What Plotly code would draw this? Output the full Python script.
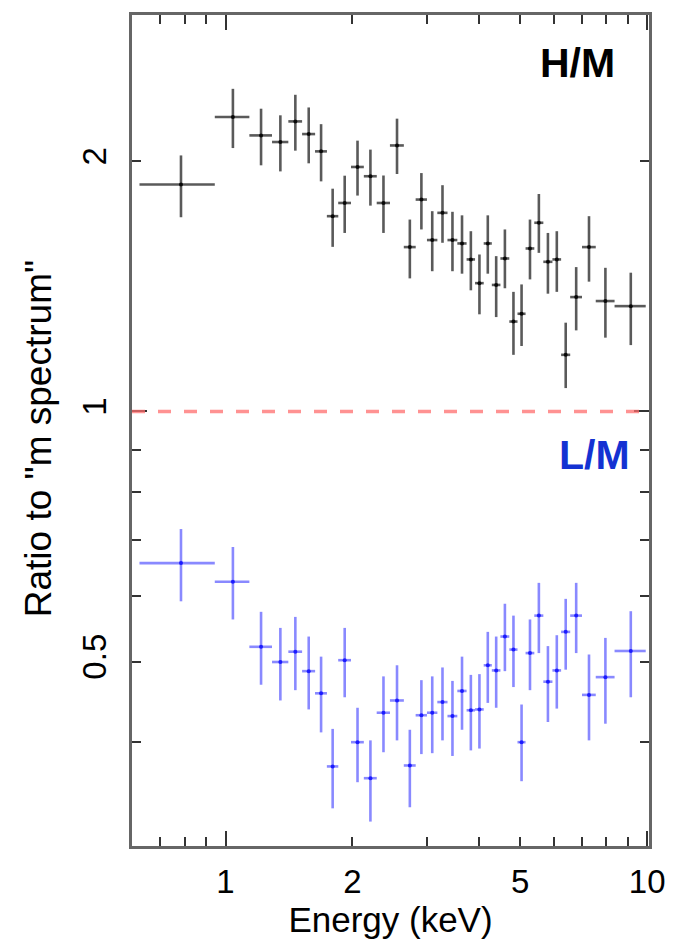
import numpy as np
import plotly.graph_objects as go

# ---------------- data ----------------
energy = [0.784, 1.041, 1.214, 1.349, 1.464, 1.575, 1.685, 1.795, 1.917, 2.056,
          2.206, 2.369, 2.551, 2.736, 2.914, 3.092, 3.270, 3.453, 3.638, 3.818,
          4.001, 4.188, 4.384, 4.598, 4.818, 5.036, 5.273, 5.535, 5.816, 6.105,
          6.409, 6.786, 7.278, 7.960, 9.144]
energy_halfwidth = [0.159, 0.098, 0.075, 0.060, 0.055, 0.056, 0.055, 0.056, 0.067, 0.072,
                    0.078, 0.086, 0.097, 0.089, 0.090, 0.088, 0.091, 0.093, 0.092, 0.088,
                    0.095, 0.093, 0.103, 0.112, 0.108, 0.111, 0.126, 0.137, 0.145, 0.145,
                    0.159, 0.219, 0.274, 0.409, 0.776]

hm_ratio = [1.876, 2.261, 2.149, 2.110, 2.234, 2.157, 2.056, 1.718, 1.782, 1.969,
            1.919, 1.782, 2.090, 1.577, 1.799, 1.608, 1.734, 1.608, 1.593, 1.524,
            1.427, 1.593, 1.420, 1.528, 1.283, 1.311, 1.571, 1.687, 1.514, 1.524,
            1.170, 1.373, 1.577, 1.358, 1.339]
hm_high = [2.033, 2.445, 2.314, 2.272, 2.405, 2.322, 2.217, 1.854, 1.922, 2.118,
           2.066, 1.923, 2.251, 1.702, 1.936, 1.742, 1.872, 1.739, 1.722, 1.648,
           1.545, 1.722, 1.538, 1.656, 1.393, 1.422, 1.702, 1.827, 1.640, 1.648,
           1.279, 1.492, 1.718, 1.489, 1.469]
hm_low = [1.713, 2.075, 1.978, 1.945, 2.060, 1.989, 1.892, 1.578, 1.640, 1.819,
          1.769, 1.640, 1.931, 1.446, 1.656, 1.475, 1.596, 1.475, 1.465, 1.399,
          1.309, 1.465, 1.299, 1.407, 1.170, 1.199, 1.442, 1.552, 1.386, 1.393,
          1.067, 1.252, 1.433, 1.227, 1.202]

lm_ratio = [0.657, 0.624, 0.521, 0.4995, 0.514, 0.487, 0.458, 0.374, 0.502, 0.400,
            0.362, 0.434, 0.449, 0.375, 0.431, 0.434, 0.447, 0.430, 0.461, 0.437,
            0.438, 0.495, 0.488, 0.536, 0.517, 0.400, 0.512, 0.568, 0.473, 0.488,
            0.543, 0.568, 0.456, 0.479, 0.515]
lm_high = [0.722, 0.687, 0.574, 0.549, 0.566, 0.536, 0.507, 0.415, 0.549, 0.440,
           0.402, 0.480, 0.495, 0.414, 0.475, 0.480, 0.492, 0.474, 0.507, 0.482,
           0.483, 0.543, 0.536, 0.587, 0.568, 0.444, 0.562, 0.622, 0.522, 0.538,
           0.595, 0.622, 0.510, 0.534, 0.575]
lm_low = [0.591, 0.562, 0.469, 0.449, 0.462, 0.438, 0.411, 0.333, 0.453, 0.358,
          0.321, 0.389, 0.402, 0.334, 0.387, 0.388, 0.402, 0.385, 0.414, 0.391,
          0.393, 0.446, 0.440, 0.487, 0.466, 0.359, 0.462, 0.512, 0.423, 0.439,
          0.489, 0.512, 0.402, 0.421, 0.453]

x_tickvals = [0.7, 0.8, 0.9, 1, 2, 3, 4, 5, 6, 7, 8, 9, 10]
x_ticktext = ["", "", "", "1", "2", "", "", "5", "", "", "", "", "10"]
x_major = [1, 10]
y_tickvals = [0.4, 0.5, 0.6, 0.7, 0.8, 0.9, 1, 2]
y_ticktext = ["", "0.5", "", "", "", "", "1", "2"]
y_major = [1]
reference_level = 1
x_limits = [0.6, 10.1]
y_limits = [0.3, 3.0]

# ---------------- figure ----------------
FONT = "Liberation Sans, Arial, Helvetica, sans-serif"
BLACK = "rgba(20,20,20,0.70)"
BLUE = "rgba(40,40,255,0.55)"


def errs(v, lo, hi):
    v, lo, hi = map(np.asarray, (v, lo, hi))
    return (hi - v).tolist(), (v - lo).tolist()


hm_p, hm_m = errs(hm_ratio, hm_low, hm_high)
lm_p, lm_m = errs(lm_ratio, lm_low, lm_high)

fig = go.Figure()

fig.add_trace(go.Scatter(
    x=energy, y=hm_ratio, mode="markers", name="H/M",
    marker=dict(size=4, color="rgba(0,0,0,0.85)"),
    error_x=dict(type="data", array=energy_halfwidth, color=BLACK, thickness=2.6, width=0),
    error_y=dict(type="data", array=hm_p, arrayminus=hm_m, color=BLACK, thickness=2.6, width=0),
    showlegend=False, xaxis="x", yaxis="y"))

fig.add_trace(go.Scatter(
    x=energy, y=lm_ratio, mode="markers", name="L/M",
    marker=dict(size=4, color="rgba(20,20,255,0.9)"),
    error_x=dict(type="data", array=energy_halfwidth, color=BLUE, thickness=2.6, width=0),
    error_y=dict(type="data", array=lm_p, arrayminus=lm_m, color=BLUE, thickness=2.6, width=0),
    showlegend=False, xaxis="x2", yaxis="y2"))

fig.add_shape(type="line", xref="paper", x0=0, x1=1, yref="y",
              y0=reference_level, y1=reference_level,
              line=dict(color="rgba(255,110,110,0.75)", width=3.5, dash="13px,13px"),
              layer="above")

log_x = [float(np.log10(v)) for v in x_limits]
log_y = [float(np.log10(v)) for v in y_limits]

common = dict(type="log", showgrid=False, zeroline=False, ticks="inside",
              tickwidth=2, tickcolor="#333333")

fig.update_layout(
    width=678, height=940,
    margin=dict(l=132, r=21, t=13, b=94),
    paper_bgcolor="white", plot_bgcolor="white",
    font=dict(family=FONT, color="black"),
    xaxis=dict(**common, range=log_x, tickmode="array", tickvals=x_tickvals,
               ticktext=x_ticktext, ticklen=9, showline=True, linecolor="#666666",
               linewidth=2.5, mirror="allticks", ticklabelstandoff=5,
               tickfont=dict(size=33, family=FONT),
               title=dict(text="Energy (keV)", font=dict(size=35, family=FONT), standoff=0)),
    yaxis=dict(**common, range=log_y, tickmode="array", tickvals=y_tickvals,
               ticktext=y_ticktext, ticklen=9, showline=True, linecolor="#666666",
               linewidth=2.5, mirror="allticks", tickangle=-90, ticklabelstandoff=10,
               tickfont=dict(size=33, family=FONT)),
    xaxis2=dict(**common, range=log_x, overlaying="x", anchor="y2", side="bottom",
                tickmode="array", tickvals=x_major, ticklen=15, showticklabels=False,
                showline=False, mirror="allticks"),
    yaxis2=dict(**common, range=log_y, overlaying="y", anchor="x2", side="left",
                tickmode="array", tickvals=y_major, ticklen=15, showticklabels=False,
                showline=False, mirror="allticks"),
    annotations=[
        dict(text='Ratio to "m spectrum"', xref="paper", yref="paper", x=-0.181, y=0.490,
             xanchor="center", yanchor="middle", textangle=-90, showarrow=False,
             font=dict(size=37, color="black", family=FONT)),
        dict(text="<b>H/M</b>", xref="paper", yref="paper", x=0.862, y=0.9417,
             xanchor="center", yanchor="middle", showarrow=False,
             font=dict(size=41, color="black", family=FONT)),
        dict(text="<b>L/M</b>", xref="paper", yref="paper", x=0.895, y=0.470,
             xanchor="center", yanchor="middle", showarrow=False,
             font=dict(size=41, color="#1432d2", family=FONT)),
    ],
)

fig.write_html("out.html")
